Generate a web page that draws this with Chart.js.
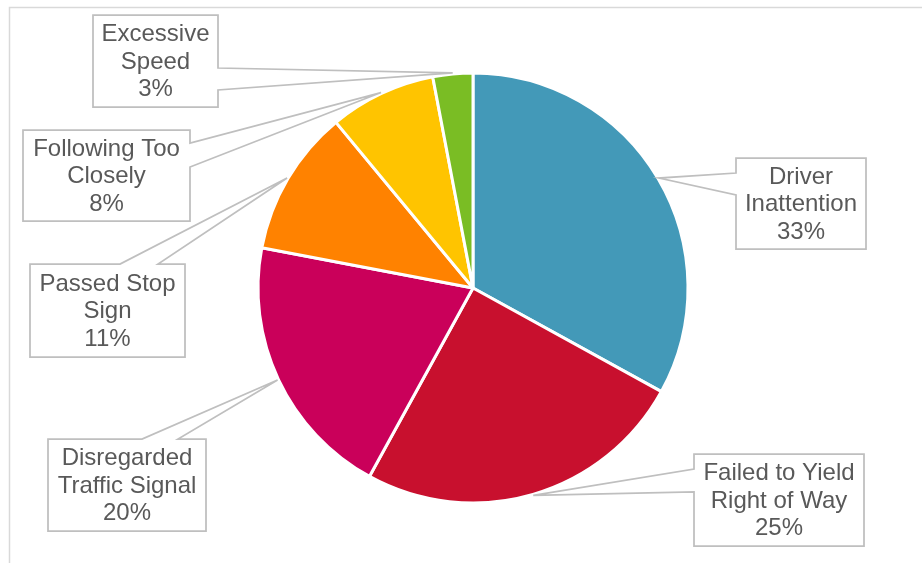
<!DOCTYPE html>
<html>
<head>
<meta charset="utf-8">
<script src="https://cdn.jsdelivr.net/npm/chart.js@4/dist/chart.umd.min.js"></script>
<style>
  html, body { margin: 0; padding: 0; background: #fff; }
  #wrap { width: 922px; height: 563px; }
</style>
</head>
<body>
<div id="wrap"><canvas id="crashpie"></canvas></div>
<script>
const categories = [
  'Driver Inattention',
  'Failed to Yield Right of Way',
  'Disregarded Traffic Signal',
  'Passed Stop Sign',
  'Following Too Closely',
  'Excessive Speed'
]
const shares = [33, 25, 20, 11, 8, 3]
const labelLines = [
  ['Driver', 'Inattention'],
  ['Failed to Yield', 'Right of Way'],
  ['Disregarded', 'Traffic Signal'],
  ['Passed Stop', 'Sign'],
  ['Following Too', 'Closely'],
  ['Excessive', 'Speed']
]
const colors = ['#4399b8', '#c8102e', '#ca005a', '#ff8200', '#ffc400', '#7abd24']

// callout boxes: position, and which side the pointer leaves from
const boxes = [
  { x: 736, y: 158, w: 130, h: 91, side: 'left', a: 173, b: 195 },
  { x: 694, y: 454, w: 170, h: 92, side: 'left', a: 469, b: 492 },
  { x: 48, y: 439, w: 158, h: 92, side: 'top', a: 142, b: 178 },
  { x: 30, y: 264, w: 155, h: 93, side: 'top', a: 120, b: 158 },
  { x: 23, y: 130, w: 167, h: 91, side: 'right', a: 143, b: 167 },
  { x: 93, y: 15, w: 125, h: 92, side: 'right', a: 68, b: 90 }
]

const frame = {
  id: 'frame',
  beforeDraw (chart) {
    const ctx = chart.ctx
    ctx.save()
    ctx.strokeStyle = '#d9d9d9'
    ctx.lineWidth = 1.5
    ctx.strokeRect(9.5, 7.5, chart.width + 20, chart.height + 20)
    ctx.restore()
  }
}

const callouts = {
  id: 'callouts',
  afterDraw (chart) {
    const ctx = chart.ctx
    const arcs = chart.getDatasetMeta(0).data
    ctx.save()
    arcs.forEach((arc, i) => {
      const bx = boxes[i]
      const mid = (arc.startAngle + arc.endAngle) / 2
      const r = arc.outerRadius + 1
      const tx = arc.x + Math.cos(mid) * r
      const ty = arc.y + Math.sin(mid) * r
      const x0 = bx.x, y0 = bx.y, x1 = bx.x + bx.w, y1 = bx.y + bx.h
      ctx.beginPath()
      ctx.moveTo(x0, y0)
      if (bx.side === 'top') {
        ctx.lineTo(bx.a, y0); ctx.lineTo(tx, ty); ctx.lineTo(bx.b, y0)
      }
      ctx.lineTo(x1, y0)
      if (bx.side === 'right') {
        ctx.lineTo(x1, bx.a); ctx.lineTo(tx, ty); ctx.lineTo(x1, bx.b)
      }
      ctx.lineTo(x1, y1)
      ctx.lineTo(x0, y1)
      if (bx.side === 'left') {
        ctx.lineTo(x0, bx.b); ctx.lineTo(tx, ty); ctx.lineTo(x0, bx.a)
      }
      ctx.closePath()
      ctx.fillStyle = '#ffffff'
      ctx.fill()
      ctx.strokeStyle = '#bfbfbf'
      ctx.lineWidth = 1.75
      ctx.lineJoin = 'miter'
      ctx.stroke()

      const lines = labelLines[i].concat([shares[i] + '%'])
      ctx.fillStyle = '#595959'
      ctx.font = '24px "Liberation Sans", Arial, sans-serif'
      ctx.textAlign = 'center'
      ctx.textBaseline = 'middle'
      const lh = 27.5
      const cx = x0 + bx.w / 2
      const cy = y0 + bx.h / 2
      lines.forEach((t, k) => {
        ctx.fillText(t, cx, cy + (k - (lines.length - 1) / 2) * lh + 1)
      })
    })
    ctx.restore()
  }
}

new Chart(document.getElementById('crashpie'), {
  type: 'pie',
  data: {
    labels: categories,
    datasets: [
      {
        data: shares,
        backgroundColor: colors,
        borderColor: '#ffffff',
        borderWidth: 3,
        borderAlign: 'center'
      }
    ]
  },
  options: {
    responsive: true,
    maintainAspectRatio: false,
    animation: false,
    radius: 215,
    layout: { padding: { left: 256, right: 232, top: 71, bottom: 58 } },
    plugins: {
      legend: { display: false },
      tooltip: { enabled: false }
    }
  },
  plugins: [frame, callouts]
})
</script>
</body>
</html>
